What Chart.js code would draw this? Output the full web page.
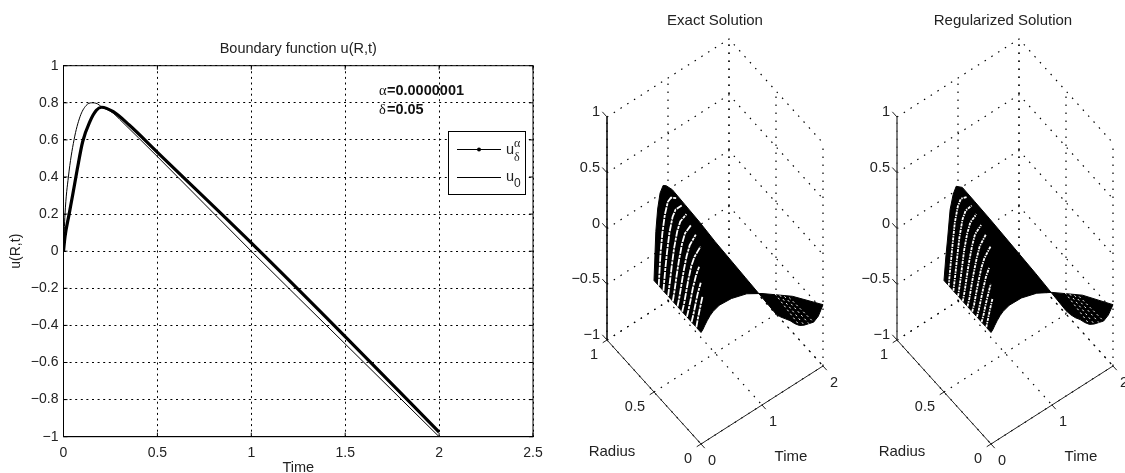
<!DOCTYPE html>
<html>
<head>
<meta charset="utf-8">
<title>Boundary function</title>
<script src="https://cdn.jsdelivr.net/npm/chart.js@4"></script>
<style>
html, body { margin: 0; padding: 0; background: #fff; width: 1125px; height: 473px; overflow: hidden; }
canvas { position: absolute; top: 0; }
#boundaryChart { left: 0; }
#exactChart { left: 560px; }
#regChart { left: 850px; }
</style>
</head>
<body>
<canvas id="boundaryChart" width="560" height="473"></canvas>
<canvas id="exactChart" width="290" height="473"></canvas>
<canvas id="regChart" width="290" height="473"></canvas>
<script>
// left plot
let u0Time = [0, 0.008, 0.026, 0.056, 0.088, 0.12, 0.15, 0.18, 0.2, 0.265, 0.3, 0.5, 1, 1.5, 2];
let u0Values = [0, 0.2, 0.4, 0.6, 0.725, 0.785, 0.8, 0.795, 0.78, 0.744, 0.71, 0.51, 0, -0.5, -1];
let uRegTime = [0, 0.008, 0.03, 0.05, 0.073, 0.102, 0.141, 0.175, 0.203, 0.265, 0.35, 0.496, 1, 1.5, 2];
let uRegValues = [0, 0.078, 0.2, 0.31, 0.44, 0.59, 0.7, 0.76, 0.776, 0.752, 0.68, 0.537, 0.045, -0.46, -0.975];
let xTicks = [0, 0.5, 1, 1.5, 2, 2.5];
let yTicks = [-1, -0.8, -0.6, -0.4, -0.2, 0, 0.2, 0.4, 0.6, 0.8, 1];

// surface plots
let surfRadius = [0, 0.05, 0.1, 0.15, 0.2, 0.25, 0.3, 0.35, 0.4, 0.45, 0.5];
let surfTime = [0, 0.03, 0.06, 0.1, 0.15, 0.2, 0.3, 0.5, 0.75, 1, 1.5, 2];
let exactU = [
    [0, 0.015, 0.04, 0.07, 0.10, 0.12, 0.14, 0.13, 0.085, 0, -0.2, -0.45],
    [0, 0.08, 0.15, 0.24, 0.30, 0.32, 0.34, 0.14, 0.09, 0, -0.22, -0.6],
    [0, 0.06, 0.13, 0.22, 0.30, 0.35, 0.37, 0.155, 0.095, 0, -0.25, -0.7],
    [0, 0.06, 0.13, 0.23, 0.32, 0.38, 0.42, 0.18, 0.10, 0, -0.28, -0.76],
    [0, 0.06, 0.14, 0.25, 0.36, 0.42, 0.48, 0.21, 0.115, 0, -0.31, -0.82],
    [0, 0.07, 0.16, 0.28, 0.40, 0.48, 0.54, 0.25, 0.13, 0, -0.34, -0.87],
    [0, 0.09, 0.20, 0.33, 0.46, 0.54, 0.58, 0.30, 0.16, 0, -0.37, -0.9],
    [0, 0.12, 0.25, 0.40, 0.53, 0.60, 0.63, 0.35, 0.18, 0, -0.40, -0.92],
    [0, 0.18, 0.33, 0.49, 0.61, 0.66, 0.66, 0.40, 0.21, 0, -0.43, -0.95],
    [0, 0.28, 0.45, 0.60, 0.70, 0.72, 0.68, 0.45, 0.23, 0, -0.46, -0.98],
    [0, 0.43, 0.62, 0.75, 0.80, 0.78, 0.71, 0.51, 0.26, 0, -0.5, -1]
];
let regU = [
    [0, 0.015, 0.04, 0.07, 0.10, 0.12, 0.14, 0.135, 0.09, 0.01, -0.19, -0.45],
    [0, 0.07, 0.14, 0.22, 0.29, 0.32, 0.34, 0.145, 0.095, 0.01, -0.21, -0.59],
    [0, 0.05, 0.12, 0.20, 0.29, 0.34, 0.37, 0.16, 0.10, 0.01, -0.24, -0.69],
    [0, 0.05, 0.12, 0.21, 0.31, 0.37, 0.42, 0.185, 0.11, 0.015, -0.27, -0.75],
    [0, 0.05, 0.13, 0.23, 0.34, 0.41, 0.48, 0.215, 0.125, 0.015, -0.30, -0.81],
    [0, 0.06, 0.15, 0.26, 0.38, 0.47, 0.54, 0.26, 0.14, 0.02, -0.33, -0.86],
    [0, 0.08, 0.18, 0.31, 0.44, 0.53, 0.58, 0.31, 0.17, 0.02, -0.36, -0.89],
    [0, 0.10, 0.22, 0.38, 0.51, 0.59, 0.63, 0.37, 0.19, 0.025, -0.39, -0.91],
    [0, 0.13, 0.27, 0.45, 0.59, 0.65, 0.66, 0.42, 0.22, 0.03, -0.42, -0.94],
    [0, 0.17, 0.33, 0.53, 0.66, 0.71, 0.69, 0.48, 0.26, 0.035, -0.44, -0.96],
    [0, 0.20, 0.36, 0.60, 0.72, 0.775, 0.73, 0.535, 0.29, 0.04, -0.46, -0.97]
];
// last time column where the mesh of each radius line still resolves
let resolvedTo = [0, 3, 4, 5, 6, 6, 6, 6, 6, 6, 6];
let boxTime = [0, 1, 2];
let boxRadius = [0, 0.5, 1];
let boxZ = [-1, -0.5, 0, 0.5, 1];

function minusLabel(v) {
    return String(v).replace("-", "\u2212");
}

// view of the 3D box, in canvas pixels per data unit
function project(r, t, z) {
    return { x: t * 61 - r * 94, y: t * 39 + r * 104 + (z + 1) * 111.5 };
}

function toPoints(xs, ys) {
    let pts = [];
    for(let i = 0; i < xs.length; i++) {
        pts.push({ x: xs[i], y: ys[i] });
    }
    return pts;
}

let boundaryDecor = {
    id: "boundaryDecor",
    afterDatasetsDraw(chart) {
        let ctx = chart.ctx;
        let a = chart.chartArea;
        ctx.save();
        ctx.strokeStyle = "#000";
        ctx.lineWidth = 1;
        ctx.strokeRect(a.left, a.top, a.right - a.left, a.bottom - a.top);
        ctx.beginPath();
        for(let v of xTicks) {
            let px = chart.scales.x.getPixelForValue(v);
            ctx.moveTo(px, a.top); ctx.lineTo(px, a.top + 4);
            ctx.moveTo(px, a.bottom); ctx.lineTo(px, a.bottom - 4);
        }
        for(let v of yTicks) {
            let py = chart.scales.y.getPixelForValue(v);
            ctx.moveTo(a.left, py); ctx.lineTo(a.left + 4, py);
            ctx.moveTo(a.right, py); ctx.lineTo(a.right - 4, py);
        }
        ctx.stroke();

        ctx.fillStyle = "#222";
        ctx.textBaseline = "middle";
        ctx.textAlign = "center";
        ctx.font = "14.5px 'Liberation Sans'";
        ctx.fillText("Boundary function u(R,t)", (a.left + a.right) / 2, 49);

        // parameter note
        ctx.fillStyle = "#111";
        ctx.textAlign = "left";
        ctx.font = "14.5px 'Liberation Serif'";
        ctx.fillText("\u03b1", 379, 91);
        ctx.fillText("\u03b4", 379, 110);
        ctx.font = "bold 14.5px 'Liberation Sans'";
        ctx.fillText("=0.0000001", 387, 91);
        ctx.fillText("=0.05", 387, 110);

        // legend box
        ctx.fillStyle = "#fff";
        ctx.fillRect(448, 131, 78, 63);
        ctx.strokeStyle = "#000";
        ctx.strokeRect(448.5, 131.5, 77, 63);
        ctx.beginPath();
        ctx.moveTo(457, 149.5); ctx.lineTo(501, 149.5);
        ctx.moveTo(457, 177.5); ctx.lineTo(501, 177.5);
        ctx.stroke();
        ctx.fillStyle = "#000";
        ctx.beginPath();
        ctx.arc(479, 149.5, 2, 0, Math.PI * 2);
        ctx.fill();
        ctx.fillStyle = "#222";
        ctx.font = "14.5px 'Liberation Sans'";
        ctx.fillText("u", 506, 150);
        ctx.fillText("u", 506, 177);
        ctx.font = "12px 'Liberation Serif'";
        ctx.fillText("\u03b1", 514, 144);
        ctx.fillText("\u03b4", 514, 158);
        ctx.font = "12px 'Liberation Sans'";
        ctx.fillText("0", 514, 184);
        ctx.restore();
    }
};

new Chart(document.getElementById("boundaryChart"), {
    type: "scatter",
    data: {
        datasets: [
            {
                label: "uReg",
                data: toPoints(uRegTime, uRegValues),
                showLine: true,
                borderColor: "#000",
                borderWidth: 3.2,
                cubicInterpolationMode: "monotone",
                pointRadius: 0
            },
            {
                label: "u0",
                data: toPoints(u0Time, u0Values),
                showLine: true,
                borderColor: "#000",
                borderWidth: 1,
                cubicInterpolationMode: "monotone",
                pointRadius: 0
            }
        ]
    },
    options: {
        responsive: false,
        animation: false,
        devicePixelRatio: 1,
        layout: { padding: { left: 0, right: 27, top: 65.7, bottom: 0 } },
        plugins: {
            legend: { display: false },
            tooltip: { enabled: false },
            title: { display: false }
        },
        scales: {
            x: {
                type: "linear",
                min: 0,
                max: 2.5,
                afterBuildTicks(scale) { scale.ticks = xTicks.map(v => ({ value: v })); },
                afterFit(scale) { scale.height = 36.3; },
                grid: { color: "#000", drawTicks: false },
                border: { color: "#000", dash: [2, 3.6] },
                ticks: {
                    color: "#222",
                    padding: 8,
                    maxRotation: 0,
                    font: { family: "Liberation Sans", size: 14 },
                    callback: v => minusLabel(v)
                },
                title: {
                    display: true,
                    text: "Time",
                    color: "#222",
                    padding: { top: 0, bottom: -4 },
                    font: { family: "Liberation Sans", size: 14.5 }
                }
            },
            y: {
                type: "linear",
                min: -1,
                max: 1,
                afterBuildTicks(scale) { scale.ticks = yTicks.map(v => ({ value: v })); },
                afterFit(scale) { scale.width = 63.5; },
                grid: { color: "#000", drawTicks: false },
                border: { color: "#000", dash: [2, 3.6] },
                ticks: {
                    color: "#222",
                    padding: 5,
                    font: { family: "Liberation Sans", size: 14 },
                    callback: v => minusLabel(v)
                },
                title: {
                    display: true,
                    text: "u(R,t)",
                    color: "#222",
                    padding: { top: 8, bottom: 0 },
                    font: { family: "Liberation Sans", size: 14 }
                }
            }
        }
    },
    plugins: [boundaryDecor]
});

function lineSet(pts, color, width, dash) {
    return {
        data: pts,
        showLine: true,
        borderColor: color,
        borderWidth: width,
        borderDash: dash || [],
        pointRadius: 0,
        fill: false,
        tension: 0
    };
}

function surfacePlot(canvasId, title, titleX, uTable, axisColor, streakDash) {
    let sets = [];
    let dots = [1.5, 6.5];

    // box walls and floor
    for(let z of boxZ) {
        sets.push(lineSet([project(1, 0, z), project(1, 2, z), project(0, 2, z)], "#000", 1.2, dots));
    }
    for(let t of boxTime) {
        sets.push(lineSet([project(1, t, -1), project(1, t, 1)], "#000", 1.2, dots));
        sets.push(lineSet([project(1, t, -1), project(0, t, -1)], "#000", 1.2, dots));
    }
    for(let r of boxRadius) {
        sets.push(lineSet([project(r, 2, -1), project(r, 2, 1)], "#000", 1.2, dots));
        sets.push(lineSet([project(r, 0, -1), project(r, 2, -1)], "#000", 1.2, dots));
    }

    // surface outline, black because the mesh is too dense to resolve
    let last = surfRadius.length - 1;
    let lastT = surfTime.length - 1;
    let outline = [];
    for(let j = 0; j <= lastT; j++) {
        outline.push(project(surfRadius[last], surfTime[j], uTable[last][j]));
    }
    for(let i = last; i >= 0; i--) {
        outline.push(project(surfRadius[i], surfTime[lastT], uTable[i][lastT]));
    }
    for(let j = lastT; j >= 0; j--) {
        outline.push(project(surfRadius[0], surfTime[j], uTable[0][j]));
    }
    for(let i = 0; i <= last; i++) {
        outline.push(project(surfRadius[i], surfTime[0], uTable[i][0]));
    }
    let surf = lineSet(outline, "#000", 1);
    surf.fill = "shape";
    surf.backgroundColor = "#000";
    sets.push(surf);

    // gaps between the radius lines near t=0 and near the far end
    for(let i = 1; i < last; i++) {
        let near = [];
        for(let j = 0; j <= resolvedTo[i]; j++) {
            near.push(project(surfRadius[i], surfTime[j], uTable[i][j]));
        }
        sets.push(lineSet(near, "#fff", 1.8, streakDash));
    }
    for(let i = 2; i <= 5; i++) {
        sets.push(lineSet([
            project(surfRadius[i], 1.6, uTable[i][10] + (uTable[i][11] - uTable[i][10]) * 0.2),
            project(surfRadius[i], surfTime[lastT], uTable[i][lastT])
        ], "#fff", 1, [2, 3]));
    }

    // solid axes
    sets.push(lineSet([project(1, 0, -1), project(1, 0, 1)], axisColor, 1.5));
    sets.push(lineSet([project(1, 0, -1), project(0, 0, -1), project(0, 2, -1)], "#222", 1));
    for(let z of boxZ) {
        sets.push(lineSet([project(1, 0, z), project(1.05, 0, z)], "#222", 1));
    }
    for(let r of boxRadius) {
        sets.push(lineSet([project(r, 0, -1), project(r, -0.07, -1)], "#222", 1));
    }
    for(let t of boxTime) {
        sets.push(lineSet([project(0, t, -1), project(-0.04, t, -1)], "#222", 1));
    }

    let labels = {
        id: "boxLabels",
        afterDatasetsDraw(chart) {
            let ctx = chart.ctx;
            let sx = chart.scales.x;
            let sy = chart.scales.y;
            let put = (text, p, dx, dy, align) => {
                ctx.textAlign = align;
                ctx.fillText(text, sx.getPixelForValue(p.x) + dx, sy.getPixelForValue(p.y) + dy);
            };
            ctx.save();
            ctx.fillStyle = "#222";
            ctx.textBaseline = "middle";
            ctx.font = "14.5px 'Liberation Sans'";
            for(let z of boxZ) {
                put(minusLabel(z), project(1, 0, z), -7, -5, "right");
            }
            for(let r of boxRadius) {
                put(String(r), project(r, 0, -1), -9, 15, "right");
            }
            for(let t of boxTime) {
                put(String(t), project(0, t, -1), 11, 17, "center");
            }
            ctx.textAlign = "center";
            ctx.font = "15px 'Liberation Sans'";
            ctx.fillText("Radius", 52, 452);
            ctx.fillText("Time", 231, 457);
            ctx.fillText(title, titleX, 21);
            ctx.restore();
        }
    };

    new Chart(document.getElementById(canvasId), {
        type: "scatter",
        // first dataset is painted last
        data: { datasets: sets.reverse() },
        options: {
            responsive: false,
            animation: false,
            devicePixelRatio: 1,
            layout: { padding: 0 },
            plugins: {
                legend: { display: false },
                tooltip: { enabled: false },
                title: { display: false }
            },
            scales: {
                x: { type: "linear", display: false, min: -141, max: 149 },
                y: { type: "linear", display: false, min: -29, max: 444 }
            }
        },
        plugins: [labels]
    });
}

surfacePlot("exactChart", "Exact Solution", 155, exactU, "#000", [7, 1, 3, 1]);
surfacePlot("regChart", "Regularized Solution", 153, regU, "#555", [3, 1, 1.5, 1]);
</script>
</body>
</html>
